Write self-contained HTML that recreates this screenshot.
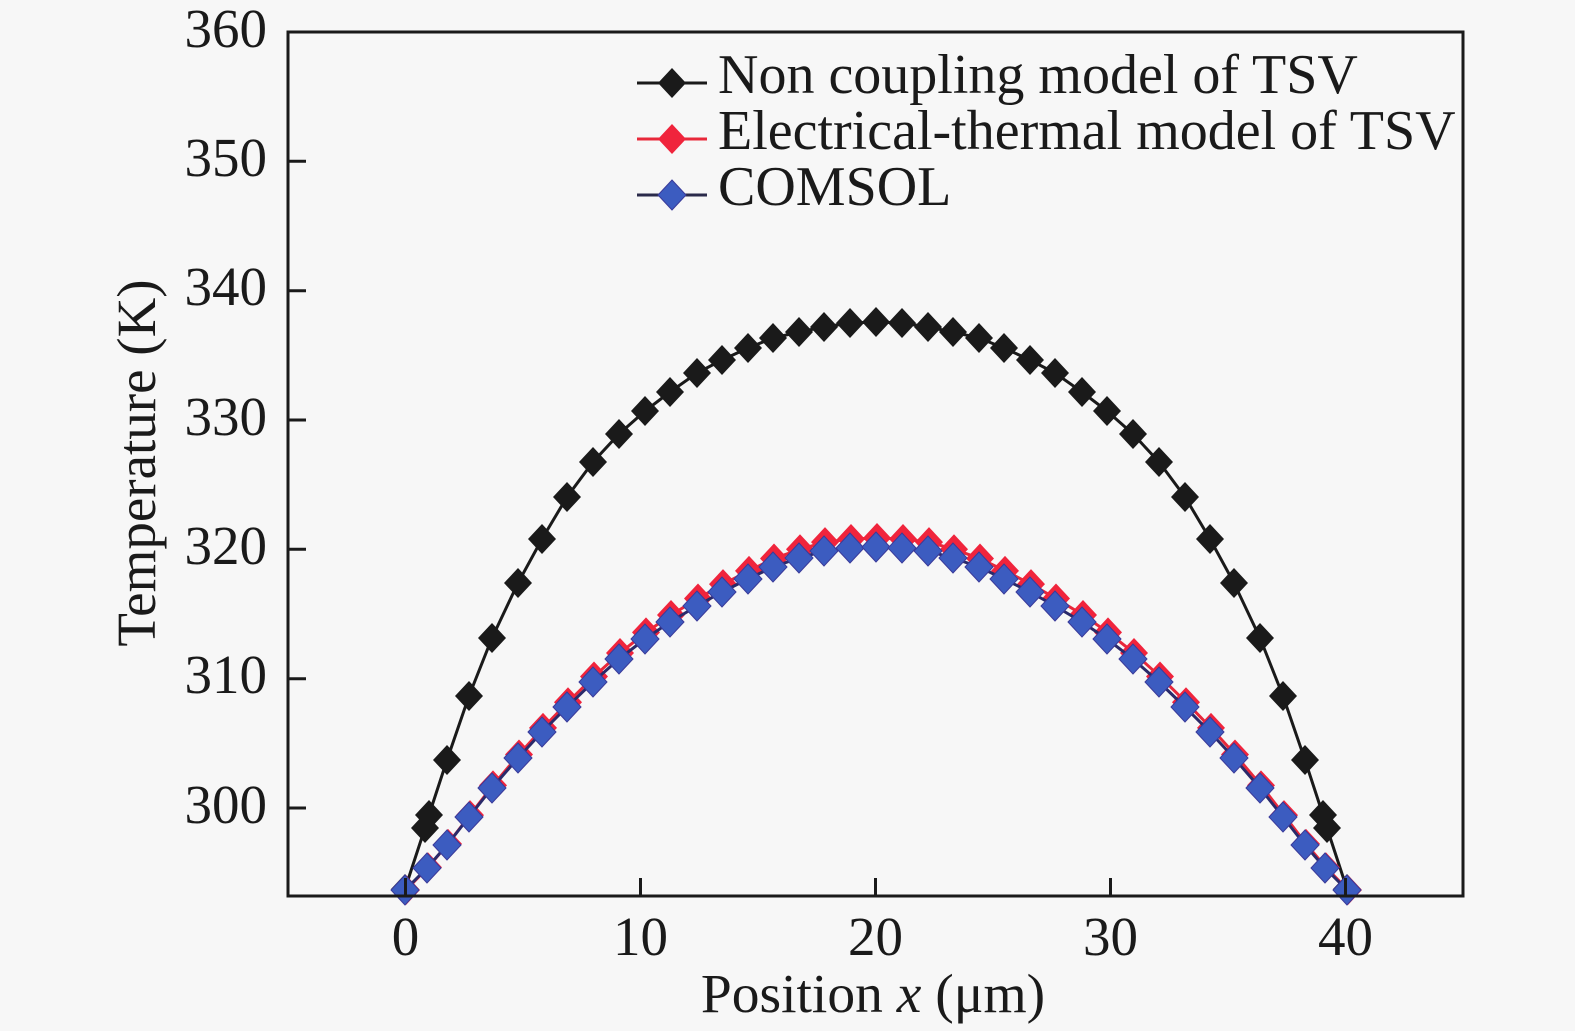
<!DOCTYPE html>
<html>
<head>
<meta charset="utf-8">
<style>
html,body{margin:0;padding:0;background:#f7f7f7;}
svg{display:block;}
text{font-family:"Liberation Serif","Times New Roman",serif;fill:#1a1a1a;}
</style>
</head>
<body>
<svg width="1575" height="1031" viewBox="0 0 1575 1031" xmlns="http://www.w3.org/2000/svg">
<rect x="0" y="0" width="1575" height="1031" fill="#f7f7f7"/>
<defs>
<polygon id="dk" points="0,-15 14,0 0,15 -14,0" fill="#1a1a1a"/>
<polygon id="dr" points="0,-15 14,0 0,15 -14,0" fill="#f0243c"/>
<polygon id="db" points="0,-15 14,0 0,15 -14,0" fill="#3c5cc0" stroke="#3a3a9a" stroke-width="1"/>
</defs>
<g id="plot"></g>
<!-- frame -->
<rect x="288" y="32" width="1175" height="864" fill="none" stroke="#1a1a1a" stroke-width="3"/>
<!-- ticks -->
<g stroke="#1a1a1a" stroke-width="3">
<line x1="288" y1="808" x2="306" y2="808"/>
<line x1="288" y1="678.7" x2="306" y2="678.7"/>
<line x1="288" y1="549.3" x2="306" y2="549.3"/>
<line x1="288" y1="420" x2="306" y2="420"/>
<line x1="288" y1="290.7" x2="306" y2="290.7"/>
<line x1="288" y1="161.3" x2="306" y2="161.3"/>
<line x1="405.5" y1="896" x2="405.5" y2="878"/>
<line x1="640.5" y1="896" x2="640.5" y2="878"/>
<line x1="875.5" y1="896" x2="875.5" y2="878"/>
<line x1="1110.5" y1="896" x2="1110.5" y2="878"/>
<line x1="1345.5" y1="896" x2="1345.5" y2="878"/>
</g>
<g font-size="55" text-anchor="end">
<text x="267" y="47">360</text>
<text x="267" y="176">350</text>
<text x="267" y="305">340</text>
<text x="267" y="435">330</text>
<text x="267" y="564">320</text>
<text x="267" y="693">310</text>
<text x="267" y="823">300</text>
</g>
<g font-size="55" text-anchor="middle">
<text x="405.5" y="955">0</text>
<text x="640.5" y="955">10</text>
<text x="875.5" y="955">20</text>
<text x="1110.5" y="955">30</text>
<text x="1345.5" y="955">40</text>
</g>
<text x="873" y="1012" font-size="55.5" text-anchor="middle">Position <tspan font-style="italic">x</tspan> (μm)</text>
<text transform="translate(155,463) rotate(-90)" font-size="55" text-anchor="middle">Temperature (K)</text>
<!-- legend -->
<g>
<line x1="637" y1="83" x2="707" y2="83" stroke="#1a1a1a" stroke-width="3"/>
<use href="#dk" x="672" y="83"/>
<line x1="637" y1="139" x2="707" y2="139" stroke="#e8283a" stroke-width="3"/>
<use href="#dr" x="672" y="139"/>
<line x1="637" y1="195" x2="707" y2="195" stroke="#2a2a4a" stroke-width="3"/>
<use href="#db" x="672" y="195"/>
<g font-size="56">
<text x="718" y="93">Non coupling model of TSV</text>
<text x="718" y="149">Electrical-thermal model of TSV</text>
<text x="718" y="205">COMSOL</text>
</g>
</g>
<script>
(function(){
var NS="http://www.w3.org/2000/svg";
var g=document.getElementById("plot");
var C=876;
var blackL=[[405,889],[425,828],[429,815],[447,760],[469,696],[492,638],[518,583],[542,539],[567,497],[593,462],[619,434],[645,411],[670,392],[697,373],[722,360],[748,348],[773,338],[799,332],[824,327],[850,323]];
var peakK=[876,322];
var blueL=[[405,890],[427,868],[447,845],[469,817],[492,788],[518,758],[542,732],[567,707],[593,682],[619,659],[645,639],[670,622],[697,606],[722,592],[748,579],[773,567],[799,558],[824,551],[850,548]];
var peakB=[876,547];
function full(L,p){var a=L.slice();a.push(p);for(var i=L.length-1;i>=0;i--){a.push([2*C-L[i][0],L[i][1]]);}return a;}
var K=full(blackL,peakK);
var B=full(blueL,peakB);
var R=B.map(function(p){return [p[0]+1,p[1]-9*(890-p[1])/343];});
function line(pts,col,w){var e=document.createElementNS(NS,"polyline");e.setAttribute("points",pts.map(function(p){return p[0]+","+p[1];}).join(" "));e.setAttribute("fill","none");e.setAttribute("stroke",col);e.setAttribute("stroke-width",w);g.appendChild(e);}
function marks(pts,id){pts.forEach(function(p){var u=document.createElementNS(NS,"use");u.setAttribute("href","#"+id);u.setAttribute("x",p[0]);u.setAttribute("y",p[1]);g.appendChild(u);});}
line(K,"#1a1a1a",3);marks(K,"dk");
line(R,"#e8283a",3);marks(R,"dr");
line(B,"#2a2a6a",3);marks(B,"db");
})();
</script>
</svg>
</body>
</html>
